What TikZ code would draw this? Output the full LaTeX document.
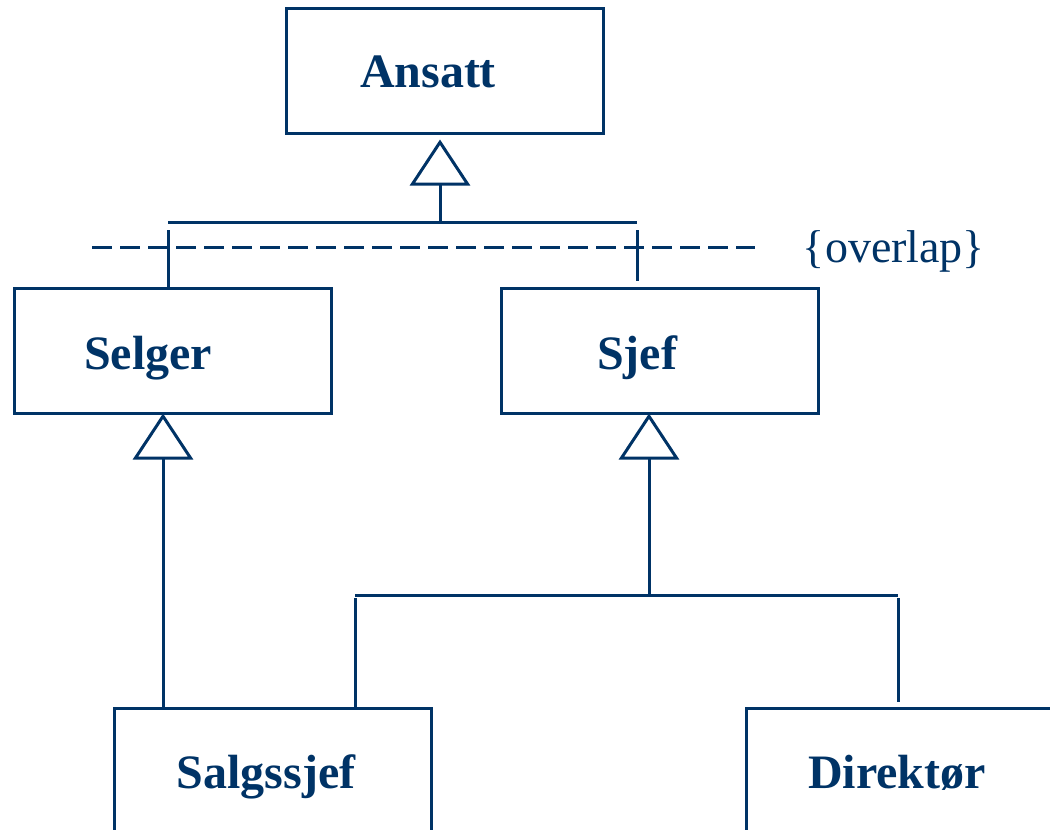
\documentclass[tikz,border=0pt]{standalone}
\usepackage{fontspec}
\setmainfont{Liberation Serif}
\usetikzlibrary{arrows.meta}
\definecolor{navy}{HTML}{003366}
\begin{document}
\begin{tikzpicture}[x=1pt,y=-1pt,
  line width=3pt, color=navy,
  classbox/.style={draw=navy, line width=3pt, minimum width=317pt, minimum height=125pt, inner sep=0pt},
  lbl/.style={text=navy, font=\fontsize{48}{56}\selectfont\bfseries, anchor=base, inner sep=0pt},
  note/.style={text=navy, font=\fontsize{46}{54}\selectfont, anchor=base, inner sep=0pt},
  link/.style={draw=navy, line width=3pt},
  gen/.style={link, -{Triangle[open, length=46pt, width=60pt, line width=3pt]}},
  sep/.style={draw=navy, line width=3pt, dash pattern=on 20pt off 8pt}]
\clip (0,0) rectangle (1050,830);
\useasboundingbox (0,0) rectangle (1050,830);

% class boxes
\node[classbox] (ansatt)    at (444.5,70.5)  {};
\node[classbox] (selger)    at (172.5,350.5) {};
\node[classbox] (sjef)      at (660,350.5)   {};
\node[classbox] (salgssjef) at (273,770.5)   {};
\node[classbox] (direktor)  at (904.5,770.5) {};

% class names
\node[lbl] (ansattT)    at (428,87)  {Ansatt};
\node[lbl] (selgerT)    at (148,369) {Selger};
\node[lbl] (sjefT)      at (637,369) {Sjef};
\node[lbl] (salgssjefT) at (266,788) {Salgssjef};
\node[lbl] (direktorT)  at (897,788) {Direktør};

% generalisation Ansatt <- {Selger, Sjef}
\coordinate (jtop) at (440,222);
\coordinate (jtl)  at (168,222);
\coordinate (jtr)  at (637,222);
\draw[link] (jtl) -- (jtr);
\draw[gen, shorten >=5pt] (jtop) -- (ansatt.south -| jtop);
\draw[link] ([yshift=-8pt]jtl) -- (jtl |- selger.north);
\draw[link] ([yshift=-8pt]jtr) -- ([yshift=6pt]jtr |- sjef.north);

% overlap constraint
\coordinate (dl) at (92,247);
\coordinate (dr) at (755,247);
\draw[sep] (dl) -- (dr);
\node[note] (overlap) at (894,262) {\{overlap\}};

% Selger <- Salgssjef
\coordinate (js) at (163,707);
\draw[gen, shorten >=-1pt] (salgssjef.north -| js) -- (selger.south -| js);

% Sjef <- {Salgssjef, Direktor}
\coordinate (jbot) at (649,595);
\coordinate (jbl)  at (355,595);
\coordinate (jbr)  at (898,595);
\draw[gen, shorten >=-1pt] (jbot) -- (sjef.south -| jbot);
\draw[link] (jbl) -- (jbr);
\draw[link] ([yshift=-3pt]jbl) -- (jbl |- salgssjef.north);
\draw[link] ([yshift=-3pt]jbr) -- ([yshift=5pt]jbr |- direktor.north);
\end{tikzpicture}
\end{document}
